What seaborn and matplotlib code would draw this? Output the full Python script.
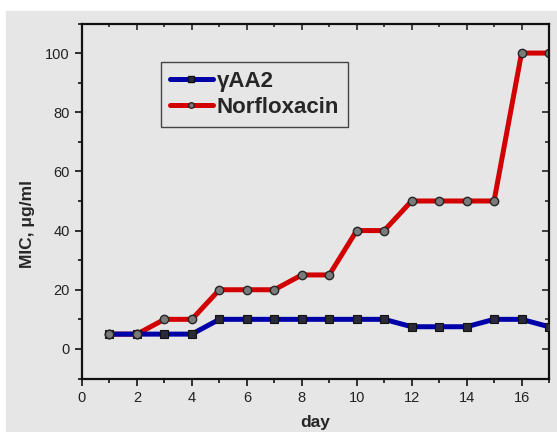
import numpy as np
import pandas as pd
import seaborn as sns
import matplotlib.pyplot as plt
from matplotlib.patches import Rectangle
from matplotlib.lines import Line2D
from matplotlib.ticker import MultipleLocator

# MIC values per day
days = list(range(1, 18))
gaa2 = [5, 5, 5, 5, 10, 10, 10, 10, 10, 10, 10, 7.5, 7.5, 7.5, 10, 10, 7.5]
norflox = [5, 5, 10, 10, 20, 20, 20, 25, 25, 40, 40, 50, 50, 50, 50, 100, 100]
series_names = ["\u03b3AA2", "Norfloxacin"]

df = pd.DataFrame({"day": days, "gAA2": gaa2, "Norfloxacin": norflox})

sns.set_theme(style="ticks")
plt.rcParams["font.family"] = ["Liberation Sans", "DejaVu Sans"]

bg = "#e6e6e6"
red = "#d20000"
blue = "#0000a8"
circ_face = "#7a7a7a"
circ_edge = "#262626"
sq_face = "#2a2a3a"

fig = plt.figure(figsize=(5.57, 4.32), dpi=100)
fig.patch.set_facecolor("white")
fig.patches.append(Rectangle((6 / 557, 0), 1, 1 - 11 / 432,
                             transform=fig.transFigure, color=bg, zorder=-5))

ax = fig.add_axes([82 / 557, 1 - 378.5 / 432, 467 / 557, 355 / 432])
ax.set_facecolor(bg)

# Norfloxacin line underneath, gAA2 on top, then Norfloxacin markers on top
sns.lineplot(data=df, x="day", y="Norfloxacin", color=red, lw=3.6, ax=ax,
             zorder=2, marker="o", markersize=6, markerfacecolor=circ_face,
             markeredgecolor=circ_edge, markeredgewidth=1.0)
sns.lineplot(data=df, x="day", y="gAA2", color=blue, lw=3.6, ax=ax,
             zorder=3, marker="s", markersize=5.5, markerfacecolor=sq_face,
             markeredgecolor="#111111", markeredgewidth=0.8)
sns.scatterplot(data=df.iloc[:2], x="day", y="Norfloxacin", ax=ax, zorder=4,
                marker="o", s=36, color=circ_face, edgecolor=circ_edge,
                linewidth=1.0, legend=False)

ax.set_xlim(0, 17)
ax.set_ylim(-10, 110)
ax.xaxis.set_major_locator(MultipleLocator(2))
ax.xaxis.set_minor_locator(MultipleLocator(1))
ax.yaxis.set_major_locator(MultipleLocator(20))
ax.yaxis.set_minor_locator(MultipleLocator(10))

for s in ax.spines.values():
    s.set_visible(True)
    s.set_linewidth(1.6)
    s.set_color("#111111")

ax.tick_params(axis="both", which="major", direction="out", length=5,
               width=1.2, labelsize=10.5, colors="#111111",
               labelcolor="#222222", pad=4)
ax.tick_params(axis="both", which="minor", direction="out", length=3,
               width=1.2, colors="#111111")
ax.tick_params(axis="x", which="major", pad=4)

top = ax.secondary_xaxis("top")
top.xaxis.set_major_locator(MultipleLocator(2))
top.xaxis.set_minor_locator(MultipleLocator(1))
top.tick_params(which="major", direction="in", length=5, width=1.2,
                labeltop=False)
top.tick_params(which="minor", direction="in", length=3, width=1.2)
top.spines["top"].set_visible(False)

right = ax.secondary_yaxis("right")
right.yaxis.set_major_locator(MultipleLocator(20))
right.yaxis.set_minor_locator(MultipleLocator(10))
right.tick_params(which="major", direction="in", length=5, width=1.2,
                  labelright=False)
right.tick_params(which="minor", direction="in", length=3, width=1.2)
right.spines["right"].set_visible(False)

ax.set_xlabel("day", fontsize=12.5, fontweight="bold", labelpad=7.5)
ax.set_ylabel("MIC, \u03bcg/ml", fontsize=12.5, fontweight="bold")
ax.yaxis.set_label_coords(-0.1, 0.435)

handles = [
    Line2D([], [], color=blue, lw=3.6, marker="s", markersize=4,
           markerfacecolor=sq_face, markeredgecolor="#111111"),
    Line2D([], [], color=red, lw=3.6, marker="o", markersize=4,
           markerfacecolor=circ_face, markeredgecolor=circ_edge),
]
leg = ax.legend(handles, series_names, loc="upper left",
                bbox_to_anchor=(0.169, 0.8915), borderaxespad=0,
                prop={"size": 16, "weight": "bold"},
                handlelength=1.95, handletextpad=0.15, labelspacing=0.22,
                borderpad=0.4, fancybox=False, framealpha=1,
                facecolor=bg, edgecolor="#444444")
leg.get_frame().set_linewidth(1.0)

fig.savefig("out.png", dpi=100, facecolor=fig.get_facecolor())
